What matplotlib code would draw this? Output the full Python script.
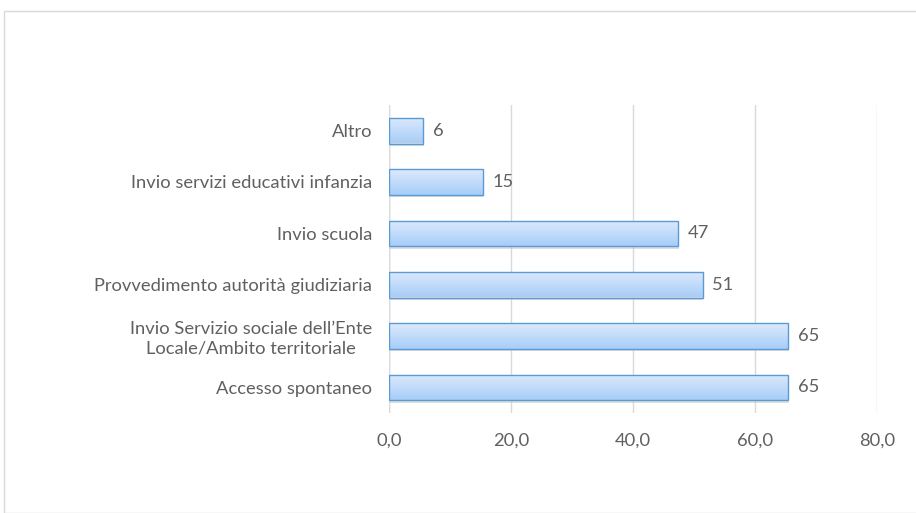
import numpy as np
import matplotlib
matplotlib.use("Agg")
import matplotlib.pyplot as plt
from matplotlib.colors import LinearSegmentedColormap
from matplotlib.patches import Rectangle

categories = ["Accesso spontaneo",
              "Invio Servizio sociale dell\u2019Ente\nLocale/Ambito territoriale",
              "Provvedimento autorità giudiziaria",
              "Invio scuola",
              "Invio servizi educativi infanzia",
              "Altro"]
values = [65.4, 65.4, 51.4, 47.4, 15.4, 5.6]
xticks = [0, 20, 40, 60, 80]

plt.rcParams['font.family'] = ['Lato', 'DejaVu Sans']
txt = "#606060"
fs = 13.2

fig = plt.figure(figsize=(9.16, 5.13), dpi=100)
fig.patches.append(Rectangle((4/916, 0), 1.2, (513-11)/513, transform=fig.transFigure,
                             fill=False, edgecolor="#d9d9d9", linewidth=1.0))
ax = fig.add_axes([389/916, 1-413/513, (877-389)/916, (413-105)/513])

y = np.arange(len(categories))
bars = ax.barh(y, values, height=0.5, color="none", edgecolor="#5b9bd5", linewidth=1.0, zorder=3)

cmap = LinearSegmentedColormap.from_list("g", ["#a8cdf8", "#dceafc"])
grad = np.linspace(0, 1, 100).reshape(-1, 1)
for b in bars:
    x0, y0, w, h = b.get_x(), b.get_y(), b.get_width(), b.get_height()
    ax.add_patch(Rectangle((x0 + 0.15, y0 - 0.05), w, h, facecolor="#c8c8c8", edgecolor="none",
                           alpha=0.6, zorder=2))
    im = ax.imshow(grad, extent=(x0, x0 + w, y0, y0 + h), origin="lower", cmap=cmap,
                   aspect="auto", zorder=2.5, interpolation="bicubic")
    im.set_clip_path(b)

for b, v in zip(bars, values):
    ax.annotate(f"{v:.0f}", (b.get_width(), b.get_y() + b.get_height() / 2),
                xytext=(7, 0), textcoords="offset points", va="center", ha="left",
                color=txt, fontsize=fs)

ax.set_xlim(0, 80)
ax.set_ylim(-0.5, len(categories) - 0.5)
ax.set_xticks(xticks)
ax.set_xticklabels([f"{t:.1f}".replace(".", ",") for t in xticks], color=txt, fontsize=fs)
ax.set_yticks(y)
ax.set_yticklabels(categories, color=txt, fontsize=fs, ha="right", multialignment="center")
ax.tick_params(axis="both", length=0)
ax.tick_params(axis="x", pad=14)
ax.tick_params(axis="y", pad=12)
for s in ax.spines.values():
    s.set_visible(False)
ax.axvline(0, color="#d9d9d9", linewidth=1.0, zorder=1)
ax.grid(axis="x", color="#d9d9d9", linewidth=1.0, zorder=0)
ax.set_axisbelow(True)

fig.savefig("out.png", dpi=100)
